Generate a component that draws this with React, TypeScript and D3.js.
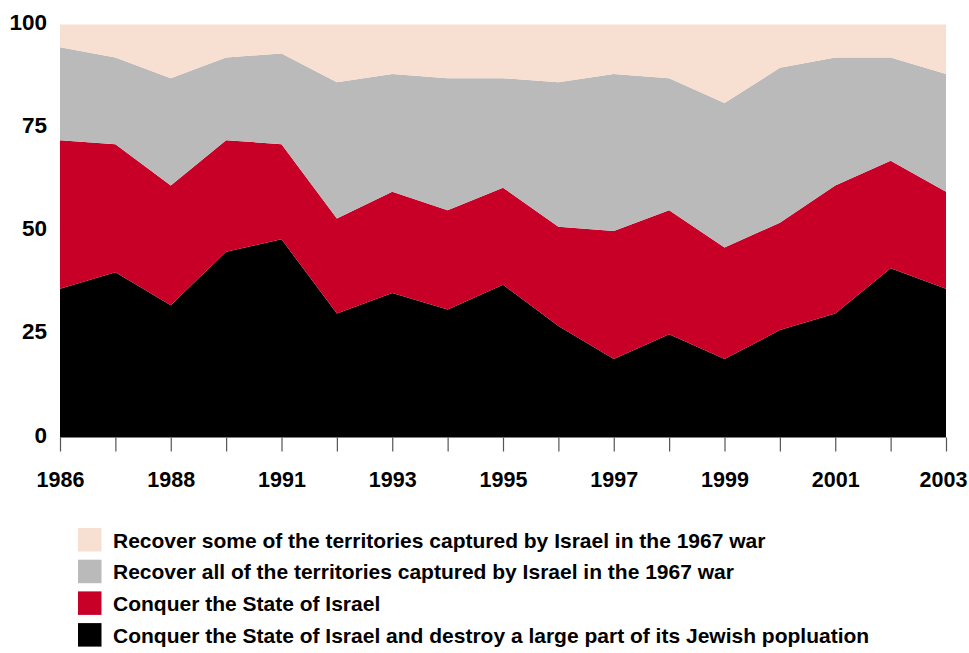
import React, { useEffect, useRef } from 'react';
import * as d3 from 'd3';

// survey rounds (one point each), only every other one gets a label
const years = ['1986', '1987', '1988', '1990', '1991', '1992', '1993', '1994', '1995', '1996', '1997', '1998', '1999', '2000', '2001', '2002', '2003'];
const tickLabels = ['1986', '1988', '1991', '1993', '1995', '1997', '1999', '2001', '2003'];
const yTicks = [0, 25, 50, 75, 100];

// percentages, bottom layer first
const destroy = [36, 40, 32, 45, 48, 30, 35, 31, 37, 27, 19, 25, 19, 26, 30, 41, 36];
const conquer = [36, 31, 29, 27, 23, 23, 24.5, 24, 23.5, 24, 31, 30, 27, 26, 31, 26, 23.5];
const recoverAll = [22.5, 21, 26, 20, 22, 33, 28.5, 32, 26.5, 35, 38, 32, 35, 37.5, 31, 25, 28.5];
const recoverSome = [5.5, 8, 13, 8, 7, 14, 12, 13, 13, 14, 12, 13, 19, 10.5, 8, 8, 12];

const seriesKeys = ['destroy', 'conquer', 'recoverAll', 'recoverSome'];
const seriesColors = ['#000000', '#c80028', '#bababa', '#f7dfd1'];
const legendLabels = [
  'Recover some of the territories captured by Israel in the 1967 war',
  'Recover all of the territories captured by Israel in the 1967 war',
  'Conquer the State of Israel',
  'Conquer the State of Israel and destroy a large part of its Jewish popluation',
];
const legendColors = ['#f7dfd1', '#bababa', '#c80028', '#000000'];

const width = 969;
const height = 653;
const margin = { top: 24.5, right: 23, bottom: 215.5, left: 60 };
const font = '"Liberation Sans", Arial, Helvetica, sans-serif';

const StackedChart = () => {
  const svgRef = useRef<SVGSVGElement>(null);

  useEffect(() => {
    const svg = d3.select(svgRef.current);
    svg.selectAll('*').remove();

    const table = years.map((y, i) => ({
      year: y,
      destroy: destroy[i],
      conquer: conquer[i],
      recoverAll: recoverAll[i],
      recoverSome: recoverSome[i],
    }));

    const xScale = d3
      .scalePoint()
      .domain(years)
      .range([margin.left, width - margin.right]);
    const yScale = d3
      .scaleLinear()
      .domain([0, 100])
      .range([height - margin.bottom, margin.top]);

    const stack = d3.stack<any>().keys(seriesKeys);
    const layers = stack(table);

    const area = d3
      .area<any>()
      .x((d) => xScale(d.data.year) as number)
      .y0((d) => yScale(d[0]))
      .y1((d) => yScale(d[1]));

    svg
      .append('g')
      .selectAll('path')
      .data(layers)
      .join('path')
      .attr('d', area)
      .attr('fill', (_d, i) => seriesColors[i]);

    // x ticks below the plot, labels only on the listed years
    const xAxis = d3
      .axisBottom(xScale)
      .tickSize(14)
      .tickPadding(20)
      .tickFormat((d) => (tickLabels.includes(d as string) ? (d as string) : ''));
    const gx = svg
      .append('g')
      .attr('transform', `translate(0, ${height - margin.bottom})`)
      .call(xAxis);
    gx.select('.domain').remove();
    gx.selectAll('.tick line').attr('stroke', '#555').attr('stroke-width', 1.2);
    gx.selectAll('.tick text')
      .attr('fill', '#000')
      .attr('font-family', font)
      .attr('font-weight', 'bold')
      .attr('font-size', 21.5)
      .attr('dy', '0.71em')
      .attr('dx', (d) => (d === years[years.length - 1] ? -3 : 0));

    // y labels only, no axis line
    svg
      .append('g')
      .selectAll('text')
      .data(yTicks)
      .join('text')
      .attr('x', 47)
      .attr('y', (d) => yScale(d) - 3)
      .attr('dy', '0.36em')
      .attr('text-anchor', 'end')
      .attr('font-family', font)
      .attr('font-weight', 'bold')
      .attr('font-size', 22.5)
      .text((d) => d);

    // legend
    const legend = svg
      .append('g')
      .selectAll('g')
      .data(legendLabels)
      .join('g')
      .attr('transform', (_d, i) => `translate(78, ${528 + i * 31.7})`);
    legend
      .append('rect')
      .attr('width', 23.5)
      .attr('height', 23.5)
      .attr('fill', (_d, i) => legendColors[i]);
    legend
      .append('text')
      .attr('x', 35)
      .attr('y', 12)
      .attr('dy', '0.36em')
      .attr('font-family', font)
      .attr('font-weight', 'bold')
      .attr('font-size', 21)
      .attr('fill', '#000')
      .text((d) => d);
  }, []);

  return (
    <svg
      ref={svgRef}
      width={width}
      height={height}
      style={{ position: 'absolute', left: 0, top: 0, background: '#fff' }}
    />
  );
};

export default function App() {
  return <StackedChart />;
}
